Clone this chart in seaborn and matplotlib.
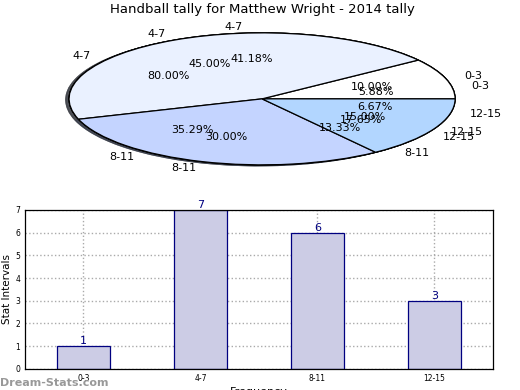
import matplotlib.pyplot as plt
import numpy as np
import seaborn as sns
import pandas as pd

# datos del gráfico
intervalos = ['0-3', '4-7', '8-11', '12-15']
frecuencia = [1, 7, 6, 3]          # barras y pastel 1
pastel_b = [2, 9, 6, 3]            # pastel 2 (10/45/30/15 %)
pastel_c = [12, 2, 1]              # pastel 3 (80/13.33/6.67 %)
intervalos_c = ['4-7', '8-11', '12-15']

colores = {'0-3': '#FFFFFF', '4-7': '#EAF1FF', '8-11': '#C4D4FF', '12-15': '#B2D6FF'}

sns.set_style('white')
plt.rcParams['font.family'] = ['DejaVu Sans']
plt.rcParams['text.color'] = 'black'
plt.rcParams['axes.labelcolor'] = 'black'
plt.rcParams['xtick.color'] = 'black'
plt.rcParams['ytick.color'] = 'black'

fig = plt.figure(figsize=(5.2, 3.9), dpi=100)

# pasteles superpuestos
ax1 = fig.add_axes([0.04, 0.535, 0.928, 0.423])
props = dict(edgecolor='black', linewidth=0.9)
sombra = {'ox': -0.012, 'oy': -0.01, 'alpha': 0.6}
for vals, labs in [(pastel_c, intervalos_c), (frecuencia, intervalos), (pastel_b, intervalos)]:
    ax1.pie(vals, labels=labs, colors=[colores[l] for l in labs], autopct='%.2f%%',
            shadow=sombra, wedgeprops=props, textprops={'fontsize': 8})
ax1.set_aspect('auto')
ax1.set_xlim(-1.25, 1.25)
ax1.set_ylim(-1.25, 1.25)
ax1.set_title('Handball tally for Matthew Wright - 2014 tally', fontsize=9.5, pad=2)

# barras
ax2 = fig.add_axes([0.048, 0.054, 0.9, 0.408])
df = pd.DataFrame({'intervalo': intervalos, 'frecuencia': frecuencia})
sns.barplot(data=df, x='intervalo', y='frecuencia', color='#CCCCE5', saturation=1,
            edgecolor='#000080', linewidth=0.9, width=0.45, ax=ax2)
for i, v in enumerate(frecuencia):
    ax2.text(i, v, str(v), ha='center', va='bottom', color='#000080', fontsize=8)
ax2.set_ylim(0, 7)
ax2.set_yticks(range(0, 8))
ax2.tick_params(labelsize=5.5, length=2, pad=1.5)
ax2.grid(True, linestyle=':', color='#AAAAAA', linewidth=1)
ax2.set_axisbelow(True)
for s in ax2.spines.values():
    s.set_color('black')
    s.set_linewidth(0.9)
ax2.set_ylabel('Stat Intervals', fontsize=7.5, labelpad=2)
ax2.set_xlabel('Frequency', fontsize=8, labelpad=3)

fig.text(0.0, 0.01, 'Dream-Stats.com', fontsize=8, fontweight='bold', color='#999999')

fig.savefig('out.png', dpi=100)
